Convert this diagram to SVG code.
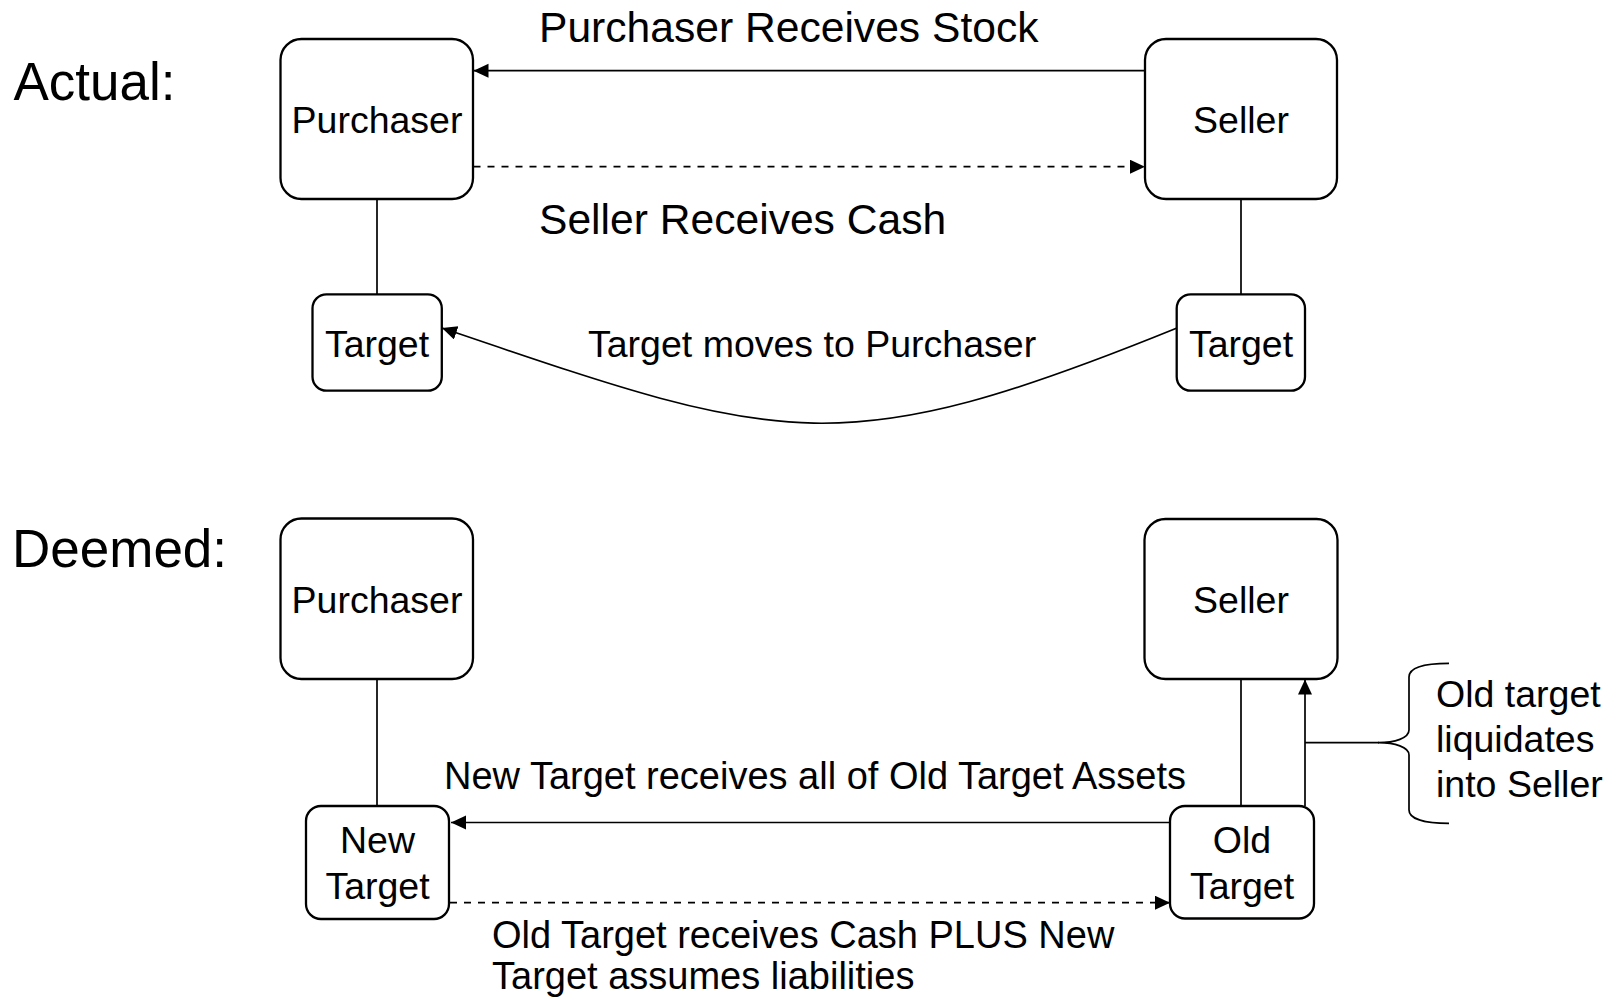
<svg xmlns="http://www.w3.org/2000/svg" width="1616" height="1000" viewBox="0 0 1616 1000">
  <style>
    .box { fill: #ffffff; stroke: #000000; stroke-width: 2.3; }
    .link { fill: none; stroke: #000000; stroke-width: 1.7; }
    .dash { stroke-dasharray: 7 7; }
    text { font-family: "Liberation Sans", Arial, sans-serif; fill: #000000; }
    .title { font-size: 53px; }
    .lbl { font-size: 37.5px; }
    .wide { font-size: 38px; }
    .big { font-size: 42.6px; }
    .mid { text-anchor: middle; }
  </style>
  <defs>
    <marker id="arrow" markerUnits="userSpaceOnUse" markerWidth="16" markerHeight="15" refX="15" refY="7" orient="auto">
      <path d="M0,0 L15,7 L0,14 Z" fill="#000000"/>
    </marker>
  </defs>

  <rect width="1616" height="1000" fill="#ffffff"/>

  <!-- section headings -->
  <text class="title" x="13.5" y="100">Actual:</text>
  <text class="title" x="12" y="567">Deemed:</text>

  <!-- connectors -->
  <g id="connectors">
    <!-- actual transaction -->
    <path class="link" d="M1145,70.7 L473.5,70.7" marker-end="url(#arrow)"/>
    <path class="link dash" d="M473.5,166.7 L1145,166.7" marker-end="url(#arrow)"/>
    <path class="link" d="M377,199 L377,294.3"/>
    <path class="link" d="M1241,199 L1241,294.3"/>
    <path class="link" d="M1177,328 C837,466 782,443.5 442,328" marker-end="url(#arrow)"/>
    <!-- deemed transaction -->
    <path class="link" d="M377,679 L377,806"/>
    <path class="link" d="M1241,679 L1241,806"/>
    <path class="link" d="M1170,822.5 L451,822.5" marker-end="url(#arrow)"/>
    <path class="link dash" d="M450,902.7 L1170,902.7" marker-end="url(#arrow)"/>
    <path class="link" d="M1305,806 L1305,679.5" marker-end="url(#arrow)"/>
    <path class="link" d="M1305,742.7 L1379,742.7"/>
    <path class="link" d="M1449,663.3 C1425,663.3 1409,667 1409,677 L1409,730 C1409,738 1395,742.7 1378,742.7 C1395,742.7 1409,747 1409,755 L1409,810 C1409,819 1425,823.3 1449,823.3"/>
  </g>

  <!-- connector labels -->
  <text class="big" x="539" y="42">Purchaser Receives Stock</text>
  <text class="big" x="539" y="234">Seller Receives Cash</text>
  <text class="lbl" x="588" y="356.7">Target moves to Purchaser</text>
  <text class="wide" x="444" y="789">New Target receives all of Old Target Assets</text>
  <text class="wide" x="492" y="948">Old Target receives Cash PLUS New</text>
  <text class="wide" x="492" y="989">Target assumes liabilities</text>
  <text class="lbl" x="1436" y="706.7">Old target</text>
  <text class="lbl" x="1436" y="751.7">liquidates</text>
  <text class="lbl" x="1436" y="796.7">into Seller</text>

  <!-- actual: nodes -->
  <g id="actual-purchaser">
    <rect class="box" x="280.5" y="39" width="192.5" height="160" rx="21"/>
    <text class="lbl mid" x="377" y="133">Purchaser</text>
  </g>
  <g id="actual-seller">
    <rect class="box" x="1145" y="39" width="192" height="160" rx="21"/>
    <text class="lbl mid" x="1241" y="133">Seller</text>
  </g>
  <g id="actual-target-left">
    <rect class="box" x="312.5" y="294.3" width="129.3" height="96.4" rx="14"/>
    <text class="lbl mid" x="377" y="356.7">Target</text>
  </g>
  <g id="actual-target-right">
    <rect class="box" x="1176.7" y="294.3" width="128.3" height="96.4" rx="14"/>
    <text class="lbl mid" x="1241" y="356.7">Target</text>
  </g>

  <!-- deemed: nodes -->
  <g id="deemed-purchaser">
    <rect class="box" x="280.5" y="518.5" width="192.5" height="160.5" rx="21"/>
    <text class="lbl mid" x="377" y="613.3">Purchaser</text>
  </g>
  <g id="deemed-seller">
    <rect class="box" x="1144.5" y="519" width="193" height="160" rx="21"/>
    <text class="lbl mid" x="1241" y="613.3">Seller</text>
  </g>
  <g id="new-target">
    <rect class="box" x="306" y="806" width="143" height="113" rx="15"/>
    <text class="lbl mid" x="377.5" y="853.3">New</text>
    <text class="lbl mid" x="377.5" y="899">Target</text>
  </g>
  <g id="old-target">
    <rect class="box" x="1170" y="806" width="144" height="112.5" rx="15"/>
    <text class="lbl mid" x="1242" y="853.3">Old</text>
    <text class="lbl mid" x="1242" y="899">Target</text>
  </g>
</svg>
